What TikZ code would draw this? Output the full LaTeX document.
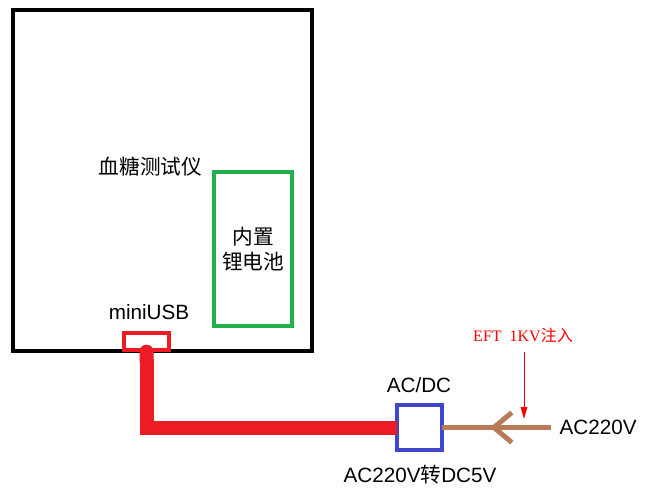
\documentclass[tikz,border=0pt]{standalone}
\usepackage{fontspec}
\setmainfont{Liberation Sans}
\newfontfamily\cjk{Noto Sans CJK SC}
\newfontfamily\eftfont{Liberation Serif}
\usetikzlibrary{arrows.meta,decorations.markings}
\definecolor{devgreen}{RGB}{34,177,76}
\definecolor{usbred}{RGB}{237,28,36}
\definecolor{dcblue}{RGB}{63,72,204}
\definecolor{acbrown}{RGB}{185,122,87}

\begin{document}
\begin{tikzpicture}[x=0.75pt, y=-0.75pt,
		every node/.style={font=\fontsize{15.5}{18.75}\selectfont},
		box/.style={draw, rectangle, outer sep=0pt, inner sep=0pt, line width=3pt},
		cable/.style={line width=10.5pt, usbred, {Round Cap[]}-},
		wire/.style={line width=3.75pt, acbrown, postaction={decorate},
			decoration={markings, mark=at position 0.56 with {\arrow{Straight Barb[length=13.5pt, width=22.5pt]}}}},
		inject/.style={-{Triangle[length=9pt, width=5pt]}, red, line width=0.75pt}]
	\useasboundingbox (0,0) rectangle (647,489);
	% ================= 血糖测试仪本体 =================
	\node[box, minimum width=224pt, minimum height=256pt] (device) at (162.8,180.3) {};
	\node[anchor=east, font=\fontsize{15.5}{18.75}\selectfont\cjk] (devlabel) at (207,167) {血糖测试仪};
	
	% 1. 内置电池
	\node[box, draw=devgreen, minimum width=58.5pt, minimum height=115.5pt, align=center,
		font=\fontsize{15.5}{18.75}\selectfont\cjk] (battery) at (253,249) {内置\\锂电池};
	
	% 2. miniUSB 接口
	\node[box, draw=usbred, line width=2.5pt, minimum width=33.75pt, minimum height=12.75pt] (usb) at (146.5,341.5) {};
	\node (usblabel) at (149,312) {miniUSB};
	
	% ================= 适配器与线缆 =================
	\node[box, draw=dcblue, minimum size=33.75pt] (adapter) at (419.5,427.5) {};
	\node (dclabel) at (419,385.5) {AC/DC};
	\node (convlabel) at (420,475) {AC220V{\cjk 转}DC5V};
	\draw[cable] ([yshift=4pt]usb.south) |- (adapter.west);
	
	% 3. 市电输入
	\coordinate (mains) at (551,427.5);
	\draw[wire] (mains) -- (adapter.east);
	\node[anchor=west, xshift=3pt] (mainslabel) at (mains) {AC220V};
	
	% 4. EFT 注入点
	\coordinate (inject) at (524,419);
	\node[red, font=\eftfont\fontsize{12}{14}\selectfont] (eft) at (523,335) {EFT\ \ 1KV{\cjk 注入}};
	\draw[inject] ([yshift=-4pt]eft.south -| inject) -- (inject);
\end{tikzpicture}
\end{document}
